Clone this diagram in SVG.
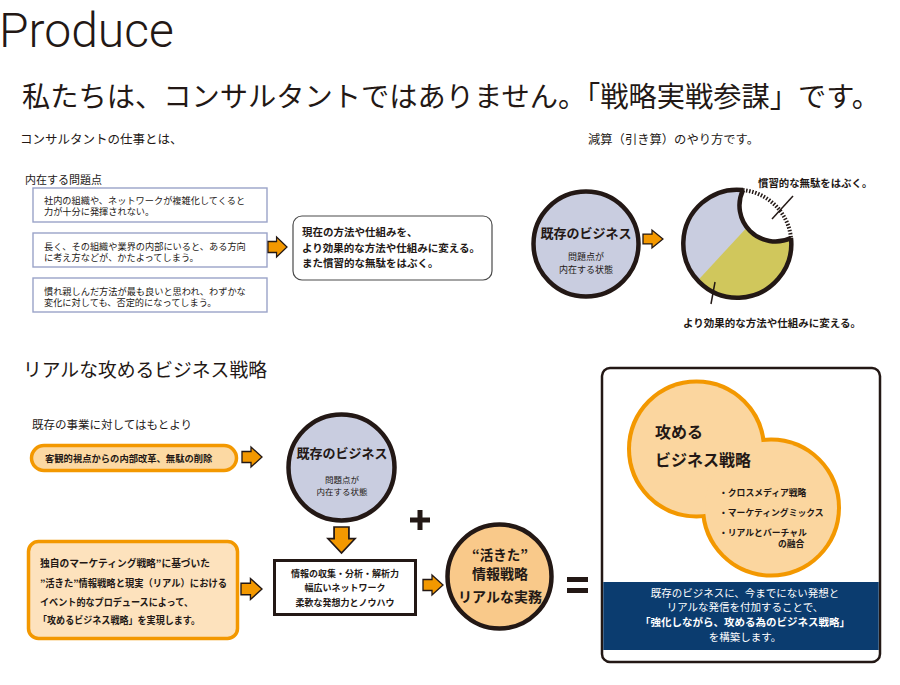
<svg xmlns="http://www.w3.org/2000/svg" width="900" height="685" viewBox="0 0 900 685">
<style>
.t{font-family:"Noto Sans CJK JP","Noto Sans",sans-serif;fill:#231815}
.b{font-weight:700}
.w{fill:#ffffff}
.pb{fill:#ffffff;stroke:#9aa3c8;stroke-width:1.4}
.arr{fill:#f39800;stroke:#231815;stroke-width:1.3}
.dk{fill:none;stroke:#231815;stroke-width:4.5}
.ln{stroke:#231815;stroke-width:1.5;fill:none}
</style>
<defs>
<path id="ar" d="M0,-5.5 H9 V-10 L20,0 L9,10 V5.5 H0 Z"/>
<clipPath id="cc"><circle cx="737.5" cy="244" r="54"/></clipPath>
</defs>
<rect width="900" height="685" fill="#ffffff"/>

<g id="title">
<text x="-1" y="47" font-family="Roboto,'Liberation Sans',sans-serif" font-weight="300" font-size="48" fill="#231815">Produce</text>
<text class="t" x="22" y="107" font-size="28" font-weight="400" textLength="858" lengthAdjust="spacingAndGlyphs">私たちは、コンサルタントではありません。「戦略実戦参謀」です。</text>
</g>

<g id="consult-heading">
<text class="t" x="20" y="144" font-size="12.5">コンサルタントの仕事とは、</text>
<text class="t" x="25" y="184" font-size="11">内在する問題点</text>
</g>

<g id="problem1">
<rect class="pb" x="33" y="188" width="234" height="34"/>
<text class="t" x="44" y="203.5" font-size="9.2">社内の組織や、ネットワークが複雑化してくると</text>
<text class="t" x="44" y="215" font-size="9.2">力が十分に発揮されない。</text>
</g>
<g id="problem2">
<rect class="pb" x="33" y="233" width="234" height="34"/>
<text class="t" x="44" y="249.5" font-size="9.2">長く、その組織や業界の内部にいると、ある方向</text>
<text class="t" x="44" y="261" font-size="9.2">に考え方などが、かたよってしまう。</text>
</g>
<g id="problem3">
<rect class="pb" x="33" y="278" width="234" height="34"/>
<text class="t" x="44" y="294.5" font-size="9.2">慣れ親しんだ方法が最も良いと思われ、わずかな</text>
<text class="t" x="44" y="306" font-size="9.2">変化に対しても、否定的になってしまう。</text>
</g>

<g id="consult-result">
<rect x="293" y="216" width="199" height="64" rx="9" fill="#ffffff" stroke="#4a4a4a" stroke-width="1.2"/>
<text class="t b" x="302" y="236" font-size="10.5">現在の方法や仕組みを、</text>
<text class="t b" x="302" y="252" font-size="10.5">より効果的な方法や仕組みに変える。</text>
<text class="t b" x="302" y="267" font-size="10.5">また慣習的な無駄をはぶく。</text>
</g>

<g id="subtract-heading">
<text class="t" x="588" y="144" font-size="12.3">減算（引き算）のやり方です。</text>
</g>

<g id="business-before">
<circle cx="586" cy="244" r="52.5" fill="#c9cde0" stroke="#231815" stroke-width="4.5"/>
<text class="t b" x="586" y="238" font-size="13" text-anchor="middle">既存のビジネス</text>
<text class="t" x="586" y="260" font-size="9" text-anchor="middle">問題点が</text>
<text class="t" x="586" y="273" font-size="9" text-anchor="middle">内在する状態</text>
</g>

<g id="business-after">
<g clip-path="url(#cc)">
<rect x="680" y="186" width="120" height="120" fill="#c9cde0"/>
<polygon points="652,330 800,170 820,170 820,330" fill="#d0c75c"/>
</g>
<circle cx="775.5" cy="205.5" r="36" fill="#ffffff"/>
<path class="dk" d="M743,190 A54,54 0 1 0 791,238"/>
<path d="M743,190 A54,54 0 0 1 791,238" fill="none" stroke="#231815" stroke-width="4" stroke-dasharray="1.5 1.6"/>
<path class="dk" d="M743,190 A36,36 0 0 0 791,238"/>
<line class="ln" x1="793" y1="196" x2="772" y2="219"/>
<line class="ln" x1="715" y1="282" x2="711" y2="304"/>
<text class="t b" x="758" y="187" font-size="10.4">慣習的な無駄をはぶく。</text>
<text class="t b" x="683" y="327" font-size="10.5">より効果的な方法や仕組みに変える。</text>
</g>

<g id="strategy-heading">
<text class="t" x="23" y="377" font-size="18.8" font-weight="400">リアルな攻めるビジネス戦略</text>
<text class="t" x="32" y="429" font-size="11.5">既存の事業に対してはもとより</text>
</g>

<g id="reform-pill">
<rect x="31.5" y="445.5" width="205" height="25" rx="12.5" fill="#fcd9a3" stroke="#f39800" stroke-width="3.5"/>
<text class="t b" x="45" y="461.5" font-size="9.3">客観的視点からの内部改革、無駄の削除</text>
</g>

<g id="marketing-box">
<rect x="28.5" y="541.5" width="209" height="97" rx="10" fill="#fde2bd" stroke="#f39800" stroke-width="3.5"/>
<text class="t b" x="40" y="567" font-size="9.8" textLength="170" lengthAdjust="spacingAndGlyphs">独自のマーケティング戦略”に基づいた</text>
<text class="t b" x="40" y="587" font-size="9.8" textLength="187" lengthAdjust="spacingAndGlyphs">”活きた”情報戦略と現実（リアル）における</text>
<text class="t b" x="40" y="606" font-size="9.8" textLength="153" lengthAdjust="spacingAndGlyphs">イベント的なプロデュースによって、</text>
<text class="t b" x="38" y="624" font-size="9.8" textLength="162" lengthAdjust="spacingAndGlyphs">「攻めるビジネス戦略」を実現します。</text>
</g>

<g id="business-existing">
<circle cx="341.5" cy="467.5" r="53" fill="#c9cde0" stroke="#231815" stroke-width="4.5"/>
<text class="t b" x="342" y="458" font-size="13" text-anchor="middle">既存のビジネス</text>
<text class="t" x="342" y="483" font-size="8.5" text-anchor="middle">問題点が</text>
<text class="t" x="342" y="495" font-size="8.5" text-anchor="middle">内在する状態</text>
</g>

<g id="skills-box">
<rect x="274.5" y="560.5" width="141" height="54" fill="#ffffff" stroke="#231815" stroke-width="3"/>
<text class="t b" x="345" y="576.5" font-size="9" text-anchor="middle">情報の収集・分析・解析力</text>
<text class="t b" x="345" y="590.5" font-size="9" text-anchor="middle">幅広いネットワーク</text>
<text class="t b" x="345" y="605.5" font-size="9" text-anchor="middle">柔軟な発想力とノウハウ</text>
</g>

<g id="living-strategy">
<circle cx="499.5" cy="576.5" r="52" fill="#f9c98a" stroke="#231815" stroke-width="4.5"/>
<text class="t b" x="500" y="560" font-size="13.5" text-anchor="middle">“活きた”</text>
<text class="t b" x="500" y="579" font-size="14" text-anchor="middle">情報戦略</text>
<text class="t b" x="500" y="602" font-size="14" text-anchor="middle">リアルな実務</text>
</g>

<g id="result-panel">
<rect x="602" y="368" width="278" height="294" rx="8" fill="#ffffff" stroke="#231815" stroke-width="2.5"/>
<rect x="603.3" y="582" width="275.4" height="68" fill="#0b3c6f"/>
<circle cx="696.5" cy="449" r="65.5" fill="#f39800" stroke="#f39800" stroke-width="8"/>
<circle cx="771" cy="507.5" r="66" fill="#f39800" stroke="#f39800" stroke-width="8"/>
<circle cx="696.5" cy="449" r="65.5" fill="#fbd69f"/>
<circle cx="771" cy="507.5" r="66" fill="#fbd69f"/>
<text class="t b" x="655" y="438" font-size="16">攻める</text>
<text class="t b" x="655" y="466" font-size="16">ビジネス戦略</text>
<text class="t b" x="719" y="496" font-size="8.8">・クロスメディア戦略</text>
<text class="t b" x="719" y="515.5" font-size="8.8">・マーケティングミックス</text>
<text class="t b" x="719" y="535.5" font-size="8.8">・リアルとバーチャル</text>
<text class="t b" x="778" y="546.5" font-size="8.8">の融合</text>
<text class="t w" x="745" y="597" font-size="10.5" text-anchor="middle">既存のビジネスに、今までにない発想と</text>
<text class="t w" x="745" y="611" font-size="10.5" text-anchor="middle">リアルな発信を付加することで、</text>
<text class="t w b" x="745" y="626" font-size="10.5" text-anchor="middle">「強化しながら、攻める為のビジネス戦略」</text>
<text class="t w" x="745" y="641" font-size="10.5" text-anchor="middle">を構築します。</text>
</g>

<g id="connectors">
<use href="#ar" class="arr" transform="translate(268,247) scale(0.95,1)"/>
<use href="#ar" class="arr" transform="translate(643,239) scale(1,0.9)"/>
<use href="#ar" class="arr" transform="translate(242,457)"/>
<use href="#ar" class="arr" transform="translate(241,589) scale(1.05,1.05)"/>
<use href="#ar" class="arr" transform="translate(423,585)"/>
<use href="#ar" class="arr" transform="translate(341.5,527) rotate(90) scale(1.3,1.35)"/>
<rect x="410" y="517.5" width="20" height="5" fill="#231815"/>
<rect x="417.5" y="510" width="5" height="20" fill="#231815"/>
<rect x="567" y="577" width="21" height="5" fill="#231815"/>
<rect x="567" y="588" width="21" height="5" fill="#231815"/>
</g>
</svg>
